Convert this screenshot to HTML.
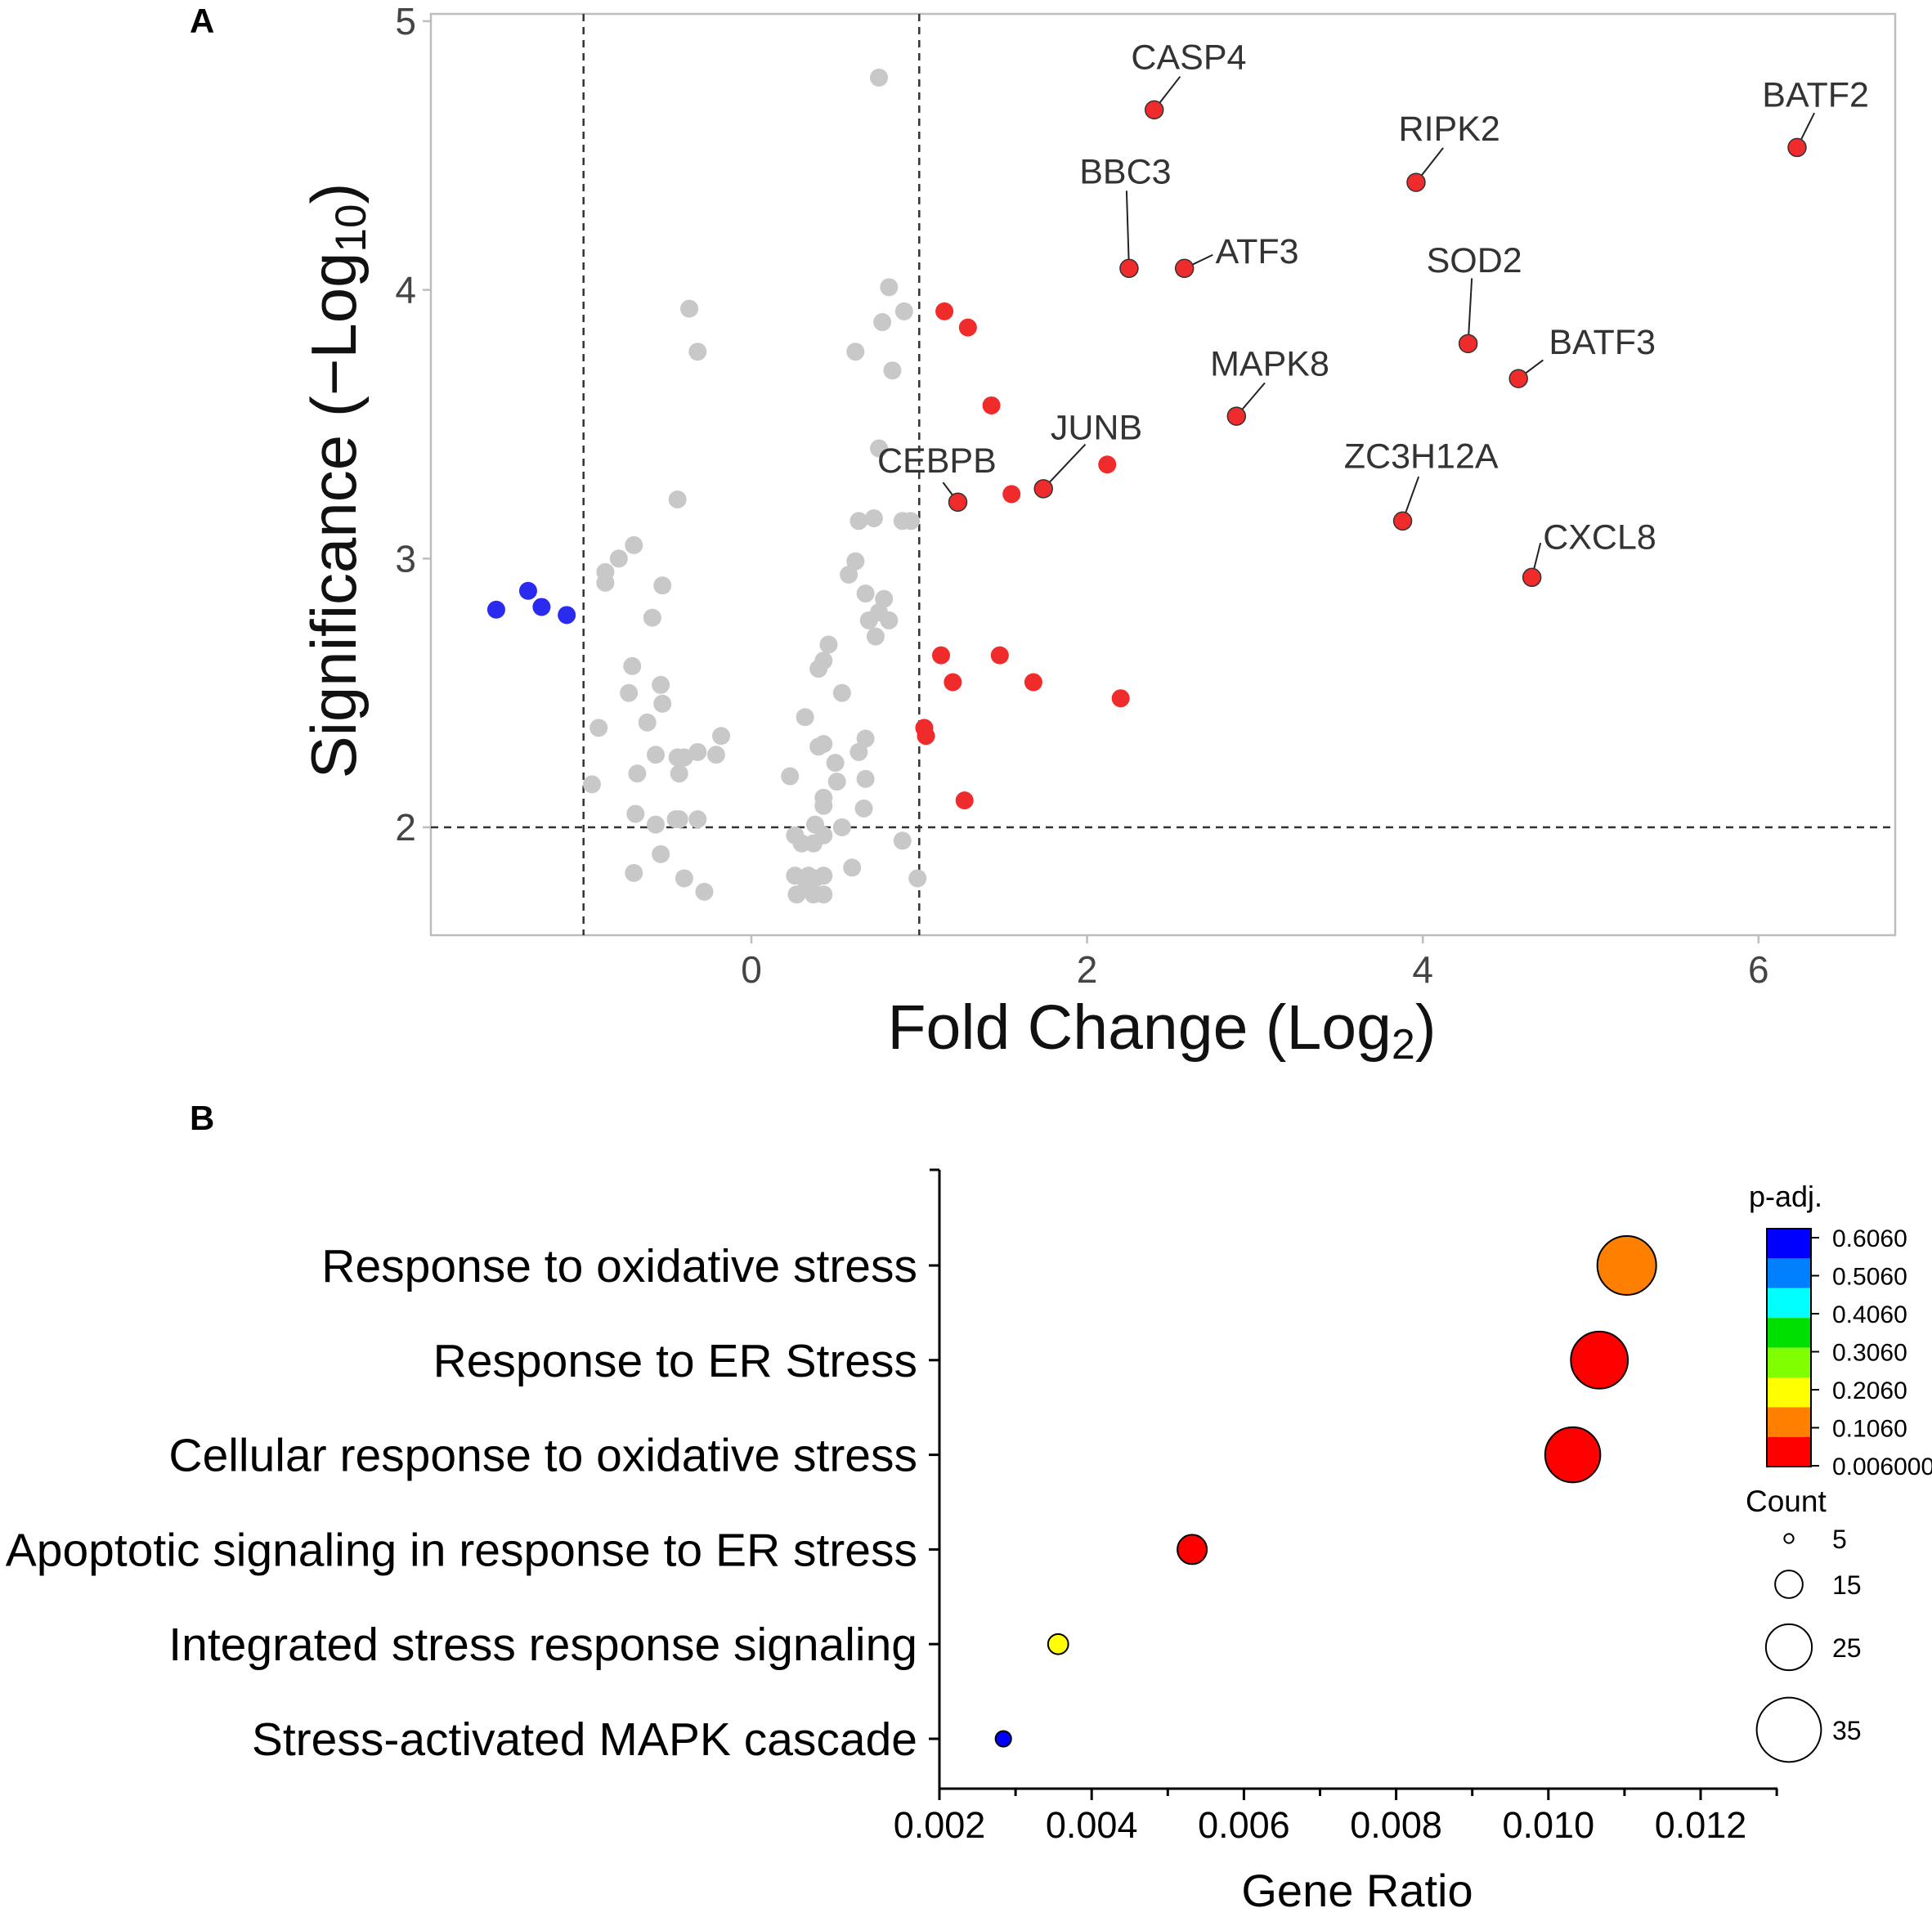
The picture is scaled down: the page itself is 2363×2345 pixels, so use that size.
<!DOCTYPE html>
<html><head><meta charset="utf-8"><style>
html,body{margin:0;padding:0;background:#fff;}
svg{display:block;font-family:"Liberation Sans",Arial,sans-serif;}
</style></head><body>
<svg id="fig" width="2363" height="2345" viewBox="0 0 2363 2345" xmlns="http://www.w3.org/2000/svg">
<g id="pa"></g>
<g id="pb"></g>
</svg>
<script>
// ---------- Panel A data ----------
const grayX=[0.76,-0.37,-0.32,0.82,0.78,0.91,0.62,0.84,0.76,-0.44,0.64,0.73,0.90,0.95,-0.70,-0.79,-0.87,-0.87,-0.53,-0.59,0.62,0.58,0.68,0.79,0.76,0.70,0.82,0.74,0.46,0.43,0.40,-0.71,-0.73,-0.54,-0.53,0.54,-0.62,-0.91,0.32,-0.18,0.40,0.43,0.68,0.64,-0.57,-0.44,-0.40,-0.32,-0.21,-0.68,-0.43,0.50,0.23,0.51,0.68,-0.95,0.43,0.43,0.67,-0.69,-0.57,-0.45,-0.43,-0.32,0.38,0.43,0.54,0.26,0.30,0.37,0.90,-0.54,-0.70,-0.40,-0.28,0.26,0.34,0.43,0.38,0.60,0.99,0.27,0.37,0.43,0.33];
const grayY=[4.79,3.93,3.77,4.01,3.88,3.92,3.77,3.70,3.41,3.22,3.14,3.15,3.14,3.14,3.05,3.00,2.95,2.91,2.90,2.78,2.99,2.94,2.87,2.85,2.80,2.77,2.77,2.71,2.68,2.62,2.59,2.60,2.50,2.53,2.46,2.50,2.39,2.37,2.41,2.34,2.30,2.31,2.33,2.28,2.27,2.26,2.26,2.28,2.27,2.20,2.20,2.24,2.19,2.17,2.18,2.16,2.11,2.08,2.07,2.05,2.01,2.03,2.03,2.03,2.01,1.97,2.00,1.97,1.94,1.94,1.95,1.90,1.83,1.81,1.76,1.82,1.82,1.82,1.81,1.85,1.81,1.75,1.75,1.75,1.78];
const blueX=[-1.52,-1.33,-1.25,-1.10];
const blueY=[2.81,2.88,2.82,2.79];
const redX=[1.15,1.29,1.43,1.55,2.12,1.13,1.48,1.20,1.68,2.20,1.03,1.04,1.27];
const redY=[3.92,3.86,3.57,3.24,3.35,2.64,2.64,2.54,2.54,2.48,2.37,2.34,2.10];
const geneNames=["CASP4","BATF2","RIPK2","BBC3","ATF3","SOD2","BATF3","MAPK8","JUNB","CEBPB","ZC3H12A","CXCL8"];
const geneX=[2.40,6.23,3.96,2.25,2.58,4.27,4.57,2.89,1.74,1.23,3.88,4.65];
const geneY=[4.67,4.53,4.40,4.08,4.08,3.80,3.67,3.53,3.26,3.21,3.14,2.93];
const xTicksA=[0,2,4,6];
const yTicksA=[2,3,4,5];
const labOff=[[28,-43],[15,-43],[27,-44],[-3,-79],[59,-14],[5,-68],[68,-30],[27,-43],[43,-50],[-17,-34],[15,-53],[55,-33]];
const lineOff=[[21,-27],[14,-28],[22,-28],[-2,-63],[23,-11],[3,-53],[20,-15],[23,-27],[34,-36],[-12,-16],[13,-36],[7,-28]];

// ---------- Panel B data ----------
const terms=["Response to oxidative stress","Response to ER Stress","Cellular response to oxidative stress","Apoptotic signaling in response to ER stress","Integrated stress response signaling","Stress-activated MAPK cascade"];
const geneRatio=[0.01103,0.01067,0.01032,0.00532,0.00356,0.00284];
const counts=[32,31,30,16,11,8.5];
const padj=[0.15,0.01,0.01,0.01,0.25,0.72];
const xTicksB=[0.002,0.004,0.006,0.008,0.010,0.012];
const xTickLabelsB=["0.002","0.004","0.006","0.008","0.010","0.012"];
const cbLabels=["0.6060","0.5060","0.4060","0.3060","0.2060","0.1060","0.006000"];
const cbColors=["#0000ff","#0080ff","#00ffff","#00e000","#80ff00","#ffff00","#ff8000","#ff0000"];
const legendCounts=[5,15,25,35];

const NS="http://www.w3.org/2000/svg";
function mk(tag,attrs,parent,text){const e=document.createElementNS(NS,tag);for(const k in attrs)e.setAttribute(k,attrs[k]);if(text!==undefined)e.textContent=text;parent.appendChild(e);return e;}

// ---------- Panel A ----------
const A=document.getElementById('pa');
const xA=v=>919+v*205.3;
const yA=v=>1012-(v-2)*328.7;
const box=mk('rect',{x:527,y:17,width:1791,height:1127,fill:'none',stroke:'#bdbdbd','stroke-width':2.5},A);


yTicksA.forEach(v=>{
 const t=mk('line',{x1:517,x2:527,y1:yA(v),y2:yA(v),stroke:'#bdbdbd','stroke-width':2.5},A);
 
 
 const l=mk('text',{x:509,y:yA(v)+16,'text-anchor':'end','font-size':46,fill:'#444'},A,String(v));
 
 
});
xTicksA.forEach(v=>{
 const t=mk('line',{x1:xA(v),x2:xA(v),y1:1144,y2:1154,stroke:'#bdbdbd','stroke-width':2.5},A);
 
 
 const l=mk('text',{x:xA(v),y:1202,'text-anchor':'middle','font-size':46,fill:'#444'},A,String(v));
 
 
});
[-1,1].forEach(v=>{
 const d=mk('line',{x1:xA(v),x2:xA(v),y1:17,y2:1144,stroke:'#333','stroke-width':2.5,'stroke-dasharray':'9,7'},A);
 
 
});
const hd=mk('line',{x1:527,x2:2318,y1:yA(2),y2:yA(2),stroke:'#333','stroke-width':2.5,'stroke-dasharray':'9,7'},A);


grayX.forEach((x,i)=>{
 const c=mk('circle',{cx:xA(x),cy:yA(grayY[i]),r:11,fill:'#c8c8c8'},A);
 
 
});
blueX.forEach((x,i)=>{
 const c=mk('circle',{cx:xA(x),cy:yA(blueY[i]),r:11,fill:'#2b2bf0'},A);
 
 
});
redX.forEach((x,i)=>{
 const c=mk('circle',{cx:xA(x),cy:yA(redY[i]),r:11,fill:'#f02b2b'},A);
 
 
});
geneNames.forEach((n,i)=>{
 const px=xA(geneX[i]),py=yA(geneY[i]);
 const s=1.507;
 const ln=mk('line',{x1:px,y1:py,x2:px+lineOff[i][0]*s,y2:py+lineOff[i][1]*s,stroke:'#222','stroke-width':2},A);
 
 
 const c=mk('circle',{cx:px,cy:py,r:11,fill:'#f02b2b',stroke:'#333','stroke-width':1.5},A);
 
 
 const t=mk('text',{x:px+labOff[i][0]*s,y:py+labOff[i][1]*s+15,'text-anchor':'middle','font-size':43,fill:'#333'},A,n);
 
 
});
const yt=mk('text',{x:0,y:0,transform:'translate(435,588) rotate(-90)','text-anchor':'middle','font-size':78,fill:'#111'},A);


yt.innerHTML='Significance (\u2212Log<tspan font-size="53" dy="12">10</tspan><tspan dy="-12">)</tspan>';
const xt=mk('text',{x:1421,y:1283,'text-anchor':'middle','font-size':77,fill:'#111'},A);


xt.innerHTML='Fold Change (Log<tspan font-size="52" dy="12">2</tspan><tspan dy="-12">)</tspan>';
const la=mk('text',{x:232,y:40,'font-size':42,'font-weight':'bold',fill:'#000'},A,'A');



// ---------- Panel B ----------
const B=document.getElementById('pb');
const xB=v=>1149+(v-0.002)*93100;
const rowY=i=>1548+i*115.8;
const rB=c=>c*1.125;
function colorFor(p){const idx=Math.min(7,Math.max(0,7-Math.floor(p/0.1)));return cbColors[idx];}
const ax=mk('path',{d:'M1149 1431 V2188 H2174',fill:'none',stroke:'#000','stroke-width':3},B);


const tk=mk('line',{x1:1137,x2:1149,y1:1431,y2:1431,stroke:'#000','stroke-width':3},B);


for(let k=0;k<=11;k++){
 const v=0.002+k*0.001;
 const t=mk('line',{x1:xB(v),x2:xB(v),y1:2188,y2:2188+(k%2===0?14:9),stroke:'#000','stroke-width':3},B);
 
 
}
xTicksB.forEach((v,i)=>{
 const l=mk('text',{x:xB(v),y:2248,'text-anchor':'middle','font-size':45,fill:'#000'},B,xTickLabelsB[i]);
 
 
});
terms.forEach((t,i)=>{
 const y=rowY(i);
 const tm=mk('line',{x1:1136,x2:1149,y1:y,y2:y,stroke:'#000','stroke-width':3},B);
 
 
 const l=mk('text',{x:1122,y:y+20,'text-anchor':'end','font-size':57,fill:'#000'},B,t);
 
 
 const c=mk('circle',{cx:xB(geneRatio[i]),cy:y,r:rB(counts[i]),fill:colorFor(padj[i]),stroke:'#000','stroke-width':2},B);
 
 
});
const gt=mk('text',{x:1660,y:2332,'text-anchor':'middle','font-size':56,fill:'#000'},B,'Gene Ratio');


const pt=mk('text',{x:2139,y:1476,'font-size':36,fill:'#000'},B,'p-adj.');


cbColors.forEach((c,i)=>{
 const r=mk('rect',{x:2161,y:1503+i*36.4,width:54,height:36.4,fill:c},B);
 
 
});
const cbb=mk('rect',{x:2161,y:1503,width:54,height:291,fill:'none',stroke:'#000','stroke-width':2},B);


cbLabels.forEach((s,i)=>{
 const y=1514+i*46.5;
 const t=mk('line',{x1:2215,x2:2225,y1:y,y2:y,stroke:'#000','stroke-width':2},B);
 
 
 const l=mk('text',{x:2241,y:y+11,'font-size':30,fill:'#000'},B,s);
 
 
});
const ct=mk('text',{x:2135,y:1849,'font-size':37,fill:'#000'},B,'Count');


const legY=[1882,1938,2015,2116];
legendCounts.forEach((c,i)=>{
 const e=mk('circle',{cx:2188,cy:legY[i],r:rB(c),fill:'none',stroke:'#000','stroke-width':2},B);
 
 
 const l=mk('text',{x:2241,y:legY[i]+12,'font-size':32,fill:'#000'},B,String(c));
 
 
});
const lb=mk('text',{x:232,y:1382,'font-size':42,'font-weight':'bold',fill:'#000'},B,'B');


</script>
</body></html>
